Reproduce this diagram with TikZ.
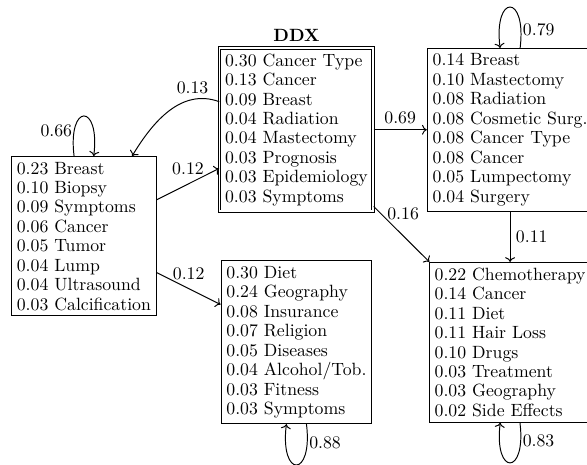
\documentclass[tikz,border=0pt]{standalone}
\usepackage{tikz}
\usetikzlibrary{arrows.meta}

\begin{document}
\begin{tikzpicture}[>={To},semithick,font=\fontsize{10.95}{12}\selectfont,
    topic/.style={draw,align=left,inner sep=3.33pt},
    self/.style={looseness=7,min distance=5mm},
    lbl/.style={inner sep=1pt}]
  \useasboundingbox (0,0) rectangle (12.733,10.065);
  \node[topic] (sym) at (1.82,4.94) {0.23 Breast\\0.10 Biopsy\\0.09 Symptoms\\0.06 Cancer\\0.05 Tumor\\0.04 Lump\\0.04 Ultrasound\\0.03 Calcification};
  \node[topic,double,double distance=1pt,label={above:\textbf{DDX}}] (ddx) at (6.43,7.25) {0.30 Cancer Type\\0.13 Cancer\\0.09 Breast\\0.04 Radiation\\0.04 Mastectomy\\0.03 Prognosis\\0.03 Epidemiology\\0.03 Symptoms};
  \node[topic] (surg) at (11.065,7.25) {0.14 Breast\\0.10 Mastectomy\\0.08 Radiation\\0.08 Cosmetic Surg.\\0.08 Cancer Type\\0.08 Cancer\\0.05 Lumpectomy\\0.04 Surgery};
  \node[topic] (life) at (6.43,2.64) {0.30 Diet\\0.24 Geography\\0.08 Insurance\\0.07 Religion\\0.05 Diseases\\0.04 Alcohol/Tob.\\0.03 Fitness\\0.03 Symptoms};
  \node[topic] (chemo) at (11.065,2.64) {0.22 Chemotherapy\\0.14 Cancer\\0.11 Diet\\0.11 Hair Loss\\0.10 Drugs\\0.03 Treatment\\0.03 Geography\\0.02 Side Effects};
  % transitions
  \draw[->] (sym)--node[above=2pt]{0.12}(ddx);
  \draw[->] (sym)--node[above=2pt]{0.12}(life);
  \draw[->] (ddx)--node[above]{0.69}(surg);
  \draw[->] (ddx)--node[pos=0.14,right]{0.16}(chemo);
  \draw[->] (surg)--node[right]{0.11}(chemo);
  \draw[->] (ddx) to[out=160,in=59] node[pos=0.25,above]{0.13} (sym);
  % self transitions
  \draw[->] (sym) to[self,out=97,in=83] node[pos=0.2,left,lbl]{0.66} (sym);
  \draw[->] (surg) to[self,out=83,in=97] node[pos=0.13,right,lbl]{0.79} (surg);
  \draw[->] (life) to[self,out=-83,in=-97] node[pos=0.13,right,lbl]{0.88} (life);
  \draw[->] (chemo) to[self,out=-83,in=-97] node[pos=0.13,right,lbl]{0.83} (chemo);
\end{tikzpicture}
\end{document}
